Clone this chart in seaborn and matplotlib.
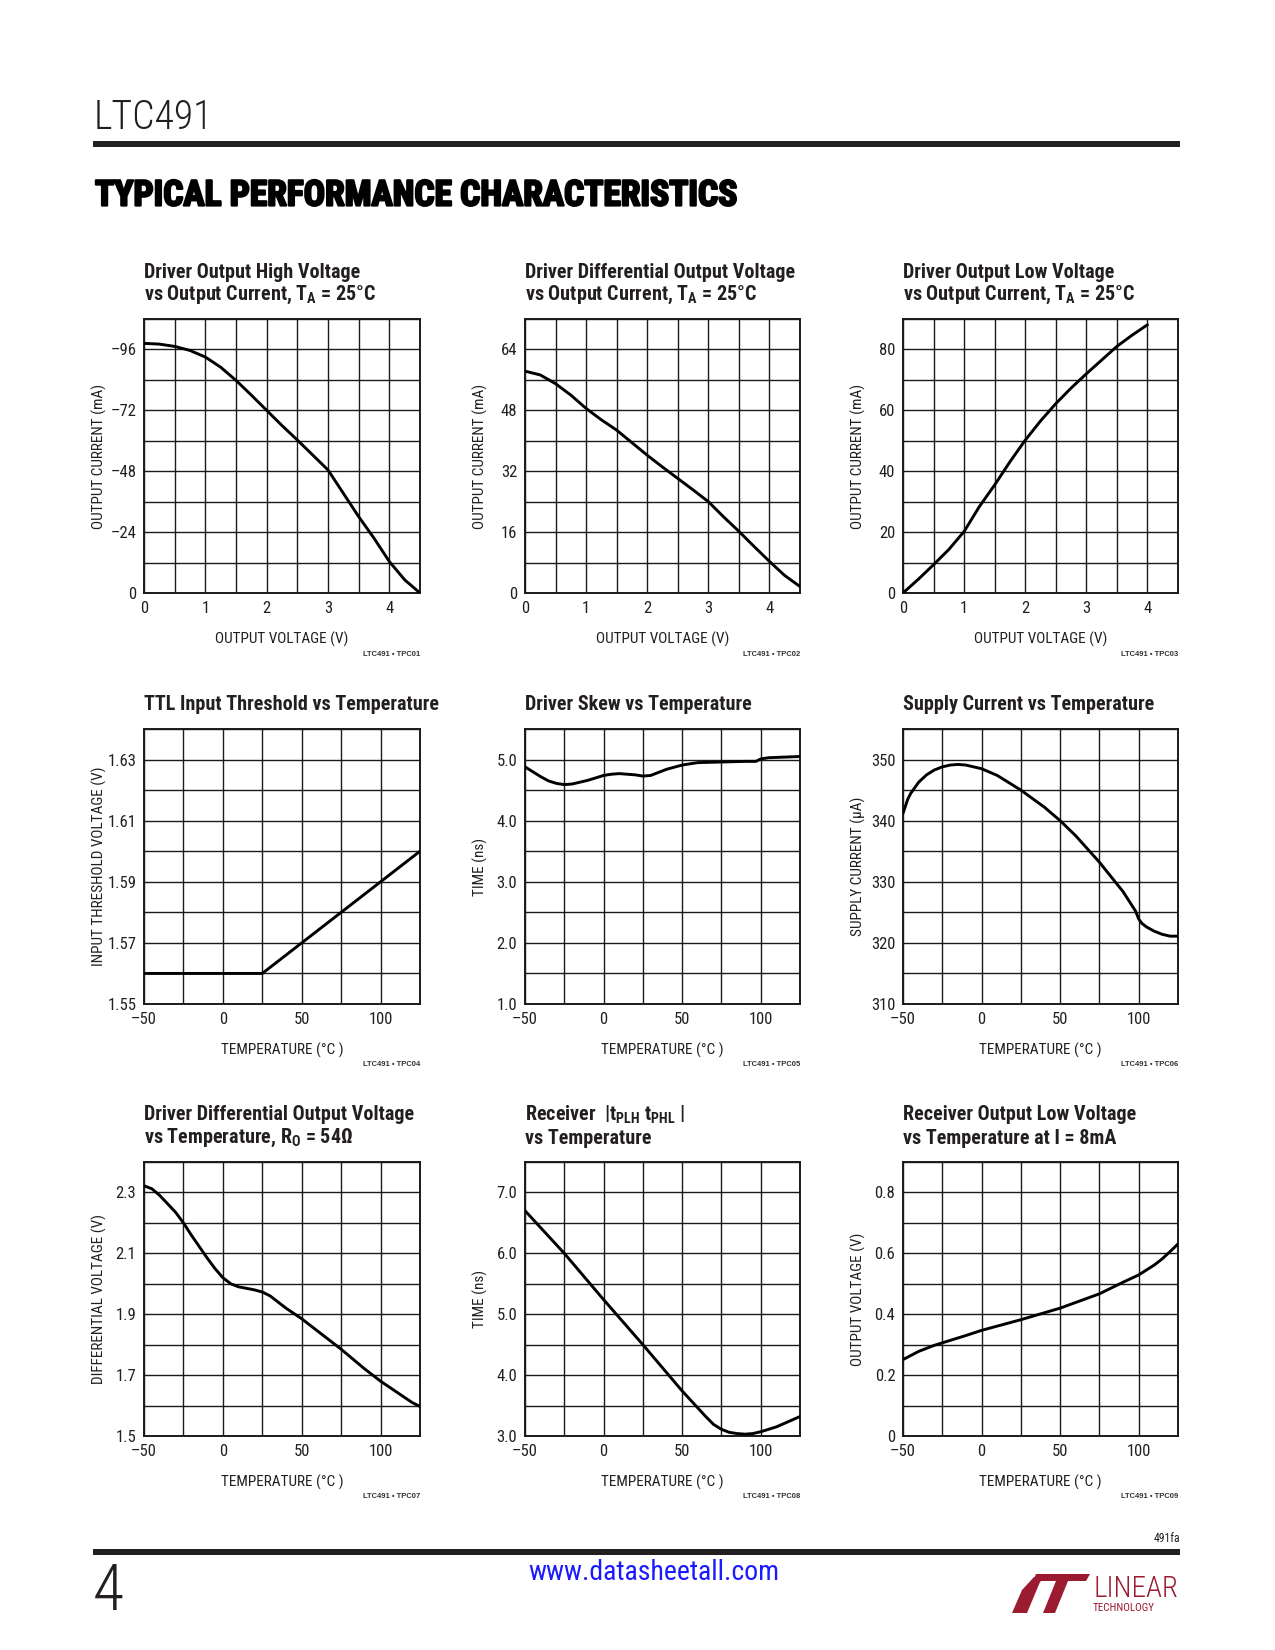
import numpy as np
import pandas as pd
import matplotlib
matplotlib.use("Agg")
import matplotlib.pyplot as plt
import matplotlib.patheffects as pe
import seaborn as sns
from matplotlib import font_manager
from matplotlib.patches import Polygon, Rectangle
from matplotlib.ticker import FixedLocator, MultipleLocator

# ---------------- data ----------------
# 1 Driver output high voltage vs output current
v_oh = [0, 0.25, 0.5, 0.75, 1.0, 1.25, 1.5, 1.75, 2.0, 2.25, 2.5, 2.75, 3.0, 3.25, 3.5, 3.75, 4.0, 4.25, 4.5]
i_oh = [-98.4, -98.1, -97.2, -95.6, -93.0, -89.0, -83.8, -78.0, -72.0, -66.0, -60.3, -54.4, -48.5, -39.3, -30.1, -21.6, -12.4, -5.2, 0.0]
# 2 Driver differential output voltage vs output current
v_od = [0, 0.25, 0.5, 0.75, 1.0, 1.25, 1.5, 1.75, 2.0, 2.25, 2.5, 2.75, 3.0, 3.25, 3.5, 3.75, 4.0, 4.25, 4.5]
i_od = [58.3, 57.3, 55.0, 52.0, 48.5, 45.5, 42.8, 39.5, 36.2, 33.1, 30.1, 27.1, 24.0, 20.0, 16.2, 12.2, 8.3, 4.6, 1.7]
# 3 Driver output low voltage vs output current
v_ol = [0, 0.25, 0.5, 0.75, 1.0, 1.25, 1.5, 1.75, 2.0, 2.25, 2.5, 2.75, 3.0, 3.25, 3.5, 3.75, 4.0]
i_ol = [0.0, 4.5, 9.3, 14.3, 20.2, 28.4, 35.5, 43.1, 50.2, 56.5, 62.2, 67.3, 72.0, 76.5, 81.0, 84.7, 88.1]
# 4 TTL input threshold vs temperature
t_ttl = [-50, 25, 125]
v_ttl = [1.56, 1.56, 1.60]
# 5 Driver skew vs temperature
t_skew = [-50, -45, -40, -35, -30, -25, -20, -10, 0, 5, 10, 20, 25, 30, 35, 40, 50, 60, 75, 90, 97, 100, 105, 125]
skew = [4.88, 4.80, 4.72, 4.65, 4.61, 4.59, 4.60, 4.66, 4.74, 4.76, 4.77, 4.75, 4.73, 4.74, 4.79, 4.84, 4.91, 4.95, 4.96, 4.97, 4.97, 5.01, 5.03, 5.05]
# 6 Supply current vs temperature
t_icc = [-50, -47, -45, -40, -35, -30, -25, -20, -15, -10, 0, 10, 25, 40, 50, 60, 75, 90, 98, 100, 102, 105, 110, 115, 120, 125]
icc = [341.2, 343.5, 344.5, 346.3, 347.5, 348.3, 348.8, 349.1, 349.2, 349.1, 348.5, 347.4, 345.0, 342.2, 340.0, 337.5, 333.2, 328.4, 325.2, 323.9, 323.2, 322.6, 321.9, 321.4, 321.1, 321.1]
# 7 Driver differential output voltage vs temperature
t_vod = [-50, -45, -40, -30, -25, -20, -10, -5, 0, 5, 10, 15, 20, 25, 30, 35, 40, 50, 60, 75, 90, 100, 110, 120, 125]
vod = [2.322, 2.312, 2.29, 2.235, 2.20, 2.16, 2.085, 2.05, 2.02, 2.0, 1.99, 1.985, 1.98, 1.973, 1.96, 1.94, 1.92, 1.885, 1.845, 1.785, 1.72, 1.68, 1.645, 1.61, 1.597]
# 8 Receiver |tPLH - tPHL| vs temperature
t_rx = [-50, -25, 0, 25, 50, 55, 60, 65, 70, 75, 80, 85, 90, 95, 100, 110, 125]
t_pd = [6.70, 6.00, 5.24, 4.50, 3.74, 3.60, 3.46, 3.32, 3.19, 3.11, 3.06, 3.04, 3.03, 3.04, 3.07, 3.15, 3.32]
# 9 Receiver output low voltage vs temperature
t_rol = [-50, -40, -30, -25, -10, 0, 25, 50, 75, 90, 100, 110, 115, 120, 125]
v_rol = [0.251, 0.278, 0.298, 0.306, 0.33, 0.347, 0.382, 0.42, 0.467, 0.505, 0.529, 0.562, 0.582, 0.606, 0.631]

# tick values and labels
ov_ticks = [0, 1, 2, 3, 4]
ov_labels = ["0", "1", "2", "3", "4"]
temp_ticks = [-50, 0, 50, 100]
temp_labels = ["\u201350", "0", "50", "100"]
y1_ticks = [0, -24, -48, -72, -96]
y1_labels = ["0", "\u201324", "\u201348", "\u201372", "\u201396"]
y2_ticks = [0, 16, 32, 48, 64]
y2_labels = ["0", "16", "32", "48", "64"]
y3_ticks = [0, 20, 40, 60, 80]
y3_labels = ["0", "20", "40", "60", "80"]
y4_ticks = [1.55, 1.57, 1.59, 1.61, 1.63]
y4_labels = ["1.55", "1.57", "1.59", "1.61", "1.63"]
y5_ticks = [1.0, 2.0, 3.0, 4.0, 5.0]
y5_labels = ["1.0", "2.0", "3.0", "4.0", "5.0"]
y6_ticks = [310, 320, 330, 340, 350]
y6_labels = ["310", "320", "330", "340", "350"]
y7_ticks = [1.5, 1.7, 1.9, 2.1, 2.3]
y7_labels = ["1.5", "1.7", "1.9", "2.1", "2.3"]
y8_ticks = [3.0, 4.0, 5.0, 6.0, 7.0]
y8_labels = ["3.0", "4.0", "5.0", "6.0", "7.0"]
y9_ticks = [0, 0.2, 0.4, 0.6, 0.8]
y9_labels = ["0", "0.2", "0.4", "0.6", "0.8"]

# ---------------- fonts ----------------
sns.set_style("white")
fl = font_manager.fontManager.ttflist
names = {f.name for f in fl}
FAM, STR = "DejaVu Sans", "normal"
found = False
for cand in ["Liberation Sans Narrow", "Roboto Condensed", "Open Sans Condensed", "Noto Sans Condensed",
             "DejaVu Sans Condensed"]:
    if cand in names:
        FAM, STR, found = cand, "normal", True
        break
if not found:
    for fam in ["Liberation Sans", "Roboto", "Open Sans", "Noto Sans", "DejaVu Sans"]:
        conds = [f.stretch for f in fl if f.name == fam and f.stretch in ("condensed", "semi-condensed", "extra-condensed")]
        if conds:
            FAM, STR, found = fam, conds[0], True
            break
WIDE = "Liberation Sans" if "Liberation Sans" in names else "DejaVu Sans"
plt.rcParams["font.family"] = [FAM, "DejaVu Sans"]
plt.rcParams["font.stretch"] = STR
plt.rcParams["mathtext.fontset"] = "custom"
sfx = "" if STR == "normal" else ":stretch=" + STR
plt.rcParams["mathtext.rm"] = FAM + sfx
plt.rcParams["mathtext.bf"] = FAM + ":bold" + sfx
plt.rcParams["mathtext.it"] = FAM + ":italic" + sfx

INK = "#231f20"
W, H = 1275, 1650
fig = plt.figure(figsize=(W / 100, H / 100), dpi=100)
fig.patch.set_facecolor("white")

def fx(px):
    return px / W

def fy(py):
    return 1 - py / H

col_l = [144, 525, 903]
col_r = [420, 800, 1178]
row_t = [319, 729, 1162]
row_b = [593, 1004, 1436]

TA = "vs Output Current, $\\mathbf{T_A}$ = 25\u00b0C"
panels = [
    dict(x=v_oh, y=i_oh, xlim=(0, 4.5), ylim=(0, -108), xt=ov_ticks, xtl=ov_labels, xm=0.5,
         yt=y1_ticks, ytl=y1_labels, ym=12,
         title=["Driver Output High Voltage", TA],
         xl="OUTPUT VOLTAGE (V)", yl="OUTPUT CURRENT (mA)", tag="LTC491 \u2022 TPC01"),
    dict(x=v_od, y=i_od, xlim=(0, 4.5), ylim=(0, 72), xt=ov_ticks, xtl=ov_labels, xm=0.5,
         yt=y2_ticks, ytl=y2_labels, ym=8,
         title=["Driver Differential Output Voltage", TA],
         xl="OUTPUT VOLTAGE (V)", yl="OUTPUT CURRENT (mA)", tag="LTC491 \u2022 TPC02"),
    dict(x=v_ol, y=i_ol, xlim=(0, 4.5), ylim=(0, 90), xt=ov_ticks, xtl=ov_labels, xm=0.5,
         yt=y3_ticks, ytl=y3_labels, ym=10,
         title=["Driver Output Low Voltage", TA],
         xl="OUTPUT VOLTAGE (V)", yl="OUTPUT CURRENT (mA)", tag="LTC491 \u2022 TPC03"),
    dict(x=t_ttl, y=v_ttl, xlim=(-50, 125), ylim=(1.55, 1.64), xt=temp_ticks, xtl=temp_labels, xm=25,
         yt=y4_ticks, ytl=y4_labels, ym=0.01,
         title=["TTL Input Threshold vs Temperature"],
         xl="TEMPERATURE (\u00b0C )", yl="INPUT THRESHOLD VOLTAGE (V)", tag="LTC491 \u2022 TPC04"),
    dict(x=t_skew, y=skew, xlim=(-50, 125), ylim=(1.0, 5.5), xt=temp_ticks, xtl=temp_labels, xm=25,
         yt=y5_ticks, ytl=y5_labels, ym=0.5,
         title=["Driver Skew vs Temperature"],
         xl="TEMPERATURE (\u00b0C )", yl="TIME (ns)", tag="LTC491 \u2022 TPC05"),
    dict(x=t_icc, y=icc, xlim=(-50, 125), ylim=(310, 355), xt=temp_ticks, xtl=temp_labels, xm=25,
         yt=y6_ticks, ytl=y6_labels, ym=5,
         title=["Supply Current vs Temperature"],
         xl="TEMPERATURE (\u00b0C )", yl="SUPPLY CURRENT (\u00b5A)", tag="LTC491 \u2022 TPC06"),
    dict(x=t_vod, y=vod, xlim=(-50, 125), ylim=(1.5, 2.4), xt=temp_ticks, xtl=temp_labels, xm=25,
         yt=y7_ticks, ytl=y7_labels, ym=0.1,
         title=["Driver Differential Output Voltage", "vs Temperature, $\\mathbf{R_O}$ = 54\u03a9"],
         xl="TEMPERATURE (\u00b0C )", yl="DIFFERENTIAL VOLTAGE (V)", tag="LTC491 \u2022 TPC07"),
    dict(x=t_rx, y=t_pd, xlim=(-50, 125), ylim=(3.0, 7.5), xt=temp_ticks, xtl=temp_labels, xm=25,
         yt=y8_ticks, ytl=y8_labels, ym=0.5,
         title=["Receiver  |$\\mathbf{t_{PLH}}$ $\\mathbf{t_{PHL}}$ |", "vs Temperature"],
         xl="TEMPERATURE (\u00b0C )", yl="TIME (ns)", tag="LTC491 \u2022 TPC08"),
    dict(x=t_rol, y=v_rol, xlim=(-50, 125), ylim=(0, 0.9), xt=temp_ticks, xtl=temp_labels, xm=25,
         yt=y9_ticks, ytl=y9_labels, ym=0.1,
         title=["Receiver Output Low Voltage", "vs Temperature at I = 8mA"],
         xl="TEMPERATURE (\u00b0C )", yl="OUTPUT VOLTAGE (V)", tag="LTC491 \u2022 TPC09"),
]

for i, p in enumerate(panels):
    r, c = divmod(i, 3)
    l, rr, t, b = col_l[c], col_r[c], row_t[r], row_b[r]
    ax = fig.add_axes([fx(l), fy(b), (rr - l) / W, (b - t) / H])
    df = pd.DataFrame({"x": p["x"], "y": p["y"]})
    sns.lineplot(data=df, x="x", y="y", ax=ax, color="black", lw=2.1, errorbar=None, sort=False, zorder=5)
    ax.set_xlim(*p["xlim"])
    ax.set_ylim(*p["ylim"])
    ax.xaxis.set_major_locator(FixedLocator(p["xt"]))
    ax.set_xticklabels(p["xtl"])
    ax.yaxis.set_major_locator(FixedLocator(p["yt"]))
    ax.set_yticklabels(p["ytl"])
    ax.xaxis.set_minor_locator(MultipleLocator(p["xm"]))
    ax.yaxis.set_minor_locator(MultipleLocator(p["ym"]))
    ax.grid(True, which="both", color="#1a1a1a", lw=1.0)
    ax.set_axisbelow(True)
    ax.tick_params(which="both", length=0, labelsize=12, colors=INK)
    ax.tick_params(axis="x", pad=6)
    ax.tick_params(axis="y", pad=5.5)
    for s in ax.spines.values():
        s.set_visible(True)
        s.set_color("#1a1a1a")
        s.set_linewidth(1.4)
    axw = rr - l
    axh = b - t
    ax.set_xlabel(p["xl"], fontsize=11, color=INK)
    ax.xaxis.set_label_coords(0.5, -46 / axh)
    ax.xaxis.label.set_va("center")
    ax.set_ylabel(p["yl"], fontsize=11, color=INK)
    ax.yaxis.set_label_coords(-45 / axw, 0.5)
    ax.yaxis.label.set_va("center")
    if len(p["title"]) == 2:
        ys = [t - 47, t - 24]
    else:
        ys = [t - 24]
    for line, yy in zip(p["title"], ys):
        fig.text(fx(l), fy(yy), line, fontsize=14.5, fontweight="bold", color=INK, ha="left", va="center")
    fig.text(fx(rr), fy(b + 61), p["tag"], fontsize=5.5, fontweight="bold", family=WIDE,
             fontstretch="normal", color="#333333", ha="right", va="center")

# ---------------- page furniture ----------------
fig.text(fx(94), fy(118), "LTC491", fontsize=28.5, fontweight="light", color=INK, ha="left", va="center")
fig.add_artist(Rectangle((fx(93), fy(147)), fx(1180) - fx(93), 6 / H, transform=fig.transFigure,
                         facecolor=INK, edgecolor="none"))
fig.text(fx(95), fy(196), "TYPICAL PERFORMANCE CHARACTERISTICS", fontsize=25.5, fontweight="heavy",
         color="black", ha="left", va="center",
         path_effects=[pe.withStroke(linewidth=1.6, foreground="black")])

fig.add_artist(Rectangle((fx(93), fy(1555)), fx(1180) - fx(93), 6 / H, transform=fig.transFigure,
                         facecolor=INK, edgecolor="none"))
fig.text(fx(1180), fy(1538), "491fa", fontsize=8.5, color=INK, ha="right", va="center")
fig.text(fx(93), fy(1592), "4", fontsize=46, fontweight="light", color=INK, ha="left", va="center")
fig.text(fx(654), fy(1573), "www.datasheetall.com", fontsize=20, color="#1a1aff", ha="center", va="center")

# Linear Technology logo
RED = "#9b1b30"
mark1 = [(1012, 1613), (1027, 1613), (1040, 1582), (1046, 1577), (1034, 1577), (1022, 1590)]
mark2 = [(1036, 1574), (1090, 1574), (1086, 1581), (1068, 1581), (1055, 1613), (1043, 1613), (1056, 1581), (1033, 1581)]
for m in (mark1, mark2):
    fig.add_artist(Polygon([(fx(a), fy(bb)) for a, bb in m], closed=True, transform=fig.transFigure,
                           facecolor=RED, edgecolor="none"))
fig.text(fx(1093), fy(1589), "LINEAR", fontsize=21, fontweight="light", color=RED, ha="left", va="center")
fig.text(fx(1093), fy(1608), "TECHNOLOGY", fontsize=8, color=RED, ha="left", va="center")

fig.savefig("out.png", dpi=100, facecolor="white")
